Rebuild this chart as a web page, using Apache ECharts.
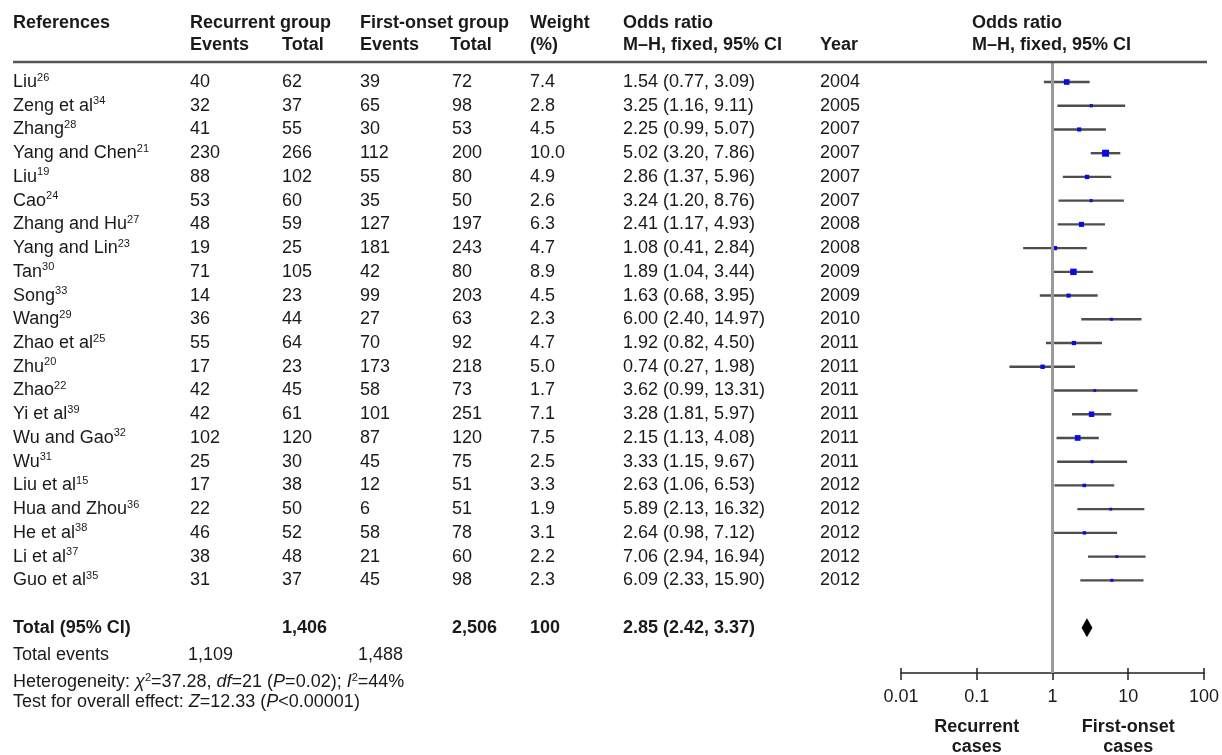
<!DOCTYPE html>
<html><head><meta charset="utf-8">
<script src="https://cdn.jsdelivr.net/npm/echarts@6/dist/echarts.min.js"></script>
<style>html,body{margin:0;padding:0;background:#fff}#c{width:1222px;height:755px}</style>
</head><body><div id="c"></div>
<script>
// ---------- data ----------
const studyNames = ['Liu','Zeng et al','Zhang','Yang and Chen','Liu','Cao','Zhang and Hu','Yang and Lin','Tan','Song','Wang','Zhao et al','Zhu','Zhao','Yi et al','Wu and Gao','Wu','Liu et al','Hua and Zhou','He et al','Li et al','Guo et al'];
const refNumbers = [26,34,28,21,19,24,27,23,30,33,29,25,20,22,39,32,31,15,36,38,37,35];
const recurrentEvents = [40,32,41,230,88,53,48,19,71,14,36,55,17,42,42,102,25,17,22,46,38,31];
const recurrentTotal = [62,37,55,266,102,60,59,25,105,23,44,64,23,45,61,120,30,38,50,52,48,37];
const firstEvents = [39,65,30,112,55,35,127,181,42,99,27,70,173,58,101,87,45,12,6,58,21,45];
const firstTotal = [72,98,53,200,80,50,197,243,80,203,63,92,218,73,251,120,75,51,51,78,60,98];
const weights = [7.4,2.8,4.5,10.0,4.9,2.6,6.3,4.7,8.9,4.5,2.3,4.7,5.0,1.7,7.1,7.5,2.5,3.3,1.9,3.1,2.2,2.3];
const oddsRatio = [1.54,3.25,2.25,5.02,2.86,3.24,2.41,1.08,1.89,1.63,6.00,1.92,0.74,3.62,3.28,2.15,3.33,2.63,5.89,2.64,7.06,6.09];
const ciLow = [0.77,1.16,0.99,3.20,1.37,1.20,1.17,0.41,1.04,0.68,2.40,0.82,0.27,0.99,1.81,1.13,1.15,1.06,2.13,0.98,2.94,2.33];
const ciHigh = [3.09,9.11,5.07,7.86,5.96,8.76,4.93,2.84,3.44,3.95,14.97,4.50,1.98,13.31,5.97,4.08,9.67,6.53,16.32,7.12,16.94,15.90];
const years = [2004,2005,2007,2007,2007,2007,2008,2008,2009,2009,2010,2011,2011,2011,2011,2011,2011,2012,2012,2012,2012,2012];
const totalRecurrent = '1,406';
const totalFirst = '2,506';
const totalWeight = '100';
const totalRecurrentEvents = '1,109';
const totalFirstEvents = '1,488';
const pooled = [2.85, 2.42, 3.37];
const tickValues = [0.01, 0.1, 1, 10, 100];
const tickLabels = ['0.01', '0.1', '1', '10', '100'];
const heterogeneityText = 'Heterogeneity: {i|χ}{s|2}=37.28, {i|df}=21 ({i|P}=0.02); {i|I}{s|2}=44%';
const overallText = 'Test for overall effect: {i|Z}=12.33 ({i|P}<0.00001)';

// ---------- chart ----------
const F = "'Liberation Sans', Arial, Helvetica, sans-serif";
const INK = '#1a1a1a';
const TOTAL_ROW = studyNames.length + 1;
const chart = echarts.init(document.getElementById('c'), null, {renderer: 'canvas'});

const studyData = studyNames.map((n, i) => [i, oddsRatio[i], ciLow[i], ciHigh[i], weights[i]]);

chart.setOption({
  animation: false,
  backgroundColor: '#fff',
  grid: {left: 901, right: 15, top: 62, bottom: 82, containLabel: false},
  xAxis: [{
    type: 'log', logBase: 10, min: 0.01, max: 100, interval: 1, position: 'bottom',
    axisLine: {show: true, onZero: false, lineStyle: {color: '#222', width: 1.5}},
    axisTick: {show: true, length: 7, lineStyle: {color: '#222', width: 1.5}},
    minorTick: {show: false}, splitLine: {show: false},
    axisLabel: {show: true, interval: 0, showMinLabel: true, showMaxLabel: true, margin: 15,
      fontSize: 18, fontFamily: F, color: INK,
      formatter: function (v) {
        let best = 0;
        tickValues.forEach((t, k) => { if (Math.abs(Math.log10(t) - Math.log10(v)) < Math.abs(Math.log10(tickValues[best]) - Math.log10(v))) best = k; });
        return tickLabels[best];
      }}
  }, {
    type: 'log', logBase: 10, min: 0.01, max: 100, interval: 1, position: 'bottom', gridIndex: 0,
    axisLine: {show: false, onZero: false},
    axisTick: {show: true, inside: true, length: 5, lineStyle: {color: '#222', width: 1.5}},
    axisLabel: {show: false}, splitLine: {show: false}
  }],
  yAxis: {type: 'value', inverse: true, min: -0.843, max: 24.905, show: false, splitLine: {show: false}},
  series: [{
    type: 'line', data: [], z: 1, silent: true,
    markLine: {silent: true, symbol: 'none', label: {show: false},
      lineStyle: {color: '#9a9a9a', width: 3, type: 'solid'}, data: [{xAxis: 1}]}
  }, {
    type: 'custom', z: 3, silent: true,
    encode: {x: [1, 2, 3], y: 0},
    data: studyData,
    renderItem: function (params, api) {
      const y = api.value(0);
      const pL = api.coord([api.value(2), y]);
      const pH = api.coord([api.value(3), y]);
      const pO = api.coord([api.value(1), y]);
      const s = 1.8 + 0.52 * api.value(4);
      return {type: 'group', children: [
        {type: 'line', shape: {x1: pL[0], y1: pL[1], x2: pH[0], y2: pH[1]}, style: {stroke: '#4d4d4d', lineWidth: 2.4}},
        {type: 'rect', shape: {x: pO[0] - s / 2, y: pO[1] - s / 2, width: s, height: s}, style: {fill: '#0a0ae6'}}
      ]};
    }
  }, {
    type: 'custom', z: 3, silent: true,
    encode: {x: [1, 2, 3], y: 0},
    data: [[TOTAL_ROW, pooled[0], pooled[1], pooled[2]]],
    renderItem: function (params, api) {
      const y = api.value(0);
      const pL = api.coord([api.value(2), y]);
      const pH = api.coord([api.value(3), y]);
      const pO = api.coord([api.value(1), y]);
      const h = 9.5;
      return {type: 'polygon', shape: {points: [[pL[0], pL[1]], [pO[0], pO[1] - h], [pH[0], pH[1]], [pO[0], pO[1] + h]]}, style: {fill: '#000'}};
    }
  }]
});

// ---------- table text ----------
const rich = {
  n: {fontSize: 18, fontFamily: F, lineHeight: 20, fill: INK},
  i: {fontSize: 18, fontFamily: F, fontStyle: 'italic', lineHeight: 20, fill: INK},
  s: {fontSize: 11, fontFamily: F, lineHeight: 15, verticalAlign: 'top', fill: INK}
};
function T(x, y, text, bold, align) {
  const a = align || 'left';
  return {type: 'text', x: x, y: y, silent: true, z: 10,
    style: {text: String(text), fill: INK, font: (bold ? 'bold ' : '') + '18px ' + F,
      align: a, verticalAlign: 'middle', textAlign: a, textVerticalAlign: 'middle', lineHeight: 20, rich: rich}};
}
const rowY = i => chart.convertToPixel({yAxisIndex: 0}, i);
const px = v => chart.convertToPixel({xAxisIndex: 0}, v);

const g = [];
// header
const H1 = 23, H2 = 45;
g.push(T(13, H1, 'References', true));
g.push(T(190, H1, 'Recurrent group', true)); g.push(T(190, H2, 'Events', true));
g.push(T(282, H2, 'Total', true));
g.push(T(360, H1, 'First-onset group', true)); g.push(T(360, H2, 'Events', true));
g.push(T(450, H2, 'Total', true));
g.push(T(530, H1, 'Weight', true)); g.push(T(530, H2, '(%)', true));
g.push(T(623, H1, 'Odds ratio', true)); g.push(T(623, H2, 'M–H, fixed, 95% CI', true));
g.push(T(820, H2, 'Year', true));
g.push(T(972, H1, 'Odds ratio', true)); g.push(T(972, H2, 'M–H, fixed, 95% CI', true));
g.push({type: 'line', silent: true, z: 5, shape: {x1: 13, y1: 62, x2: 1207, y2: 62}, style: {stroke: '#555', lineWidth: 2.5}});

studyNames.forEach((n, i) => {
  const y = rowY(i);
  g.push(T(13, y, n + '{s|' + refNumbers[i] + '}'));
  g.push(T(190, y, recurrentEvents[i]));
  g.push(T(282, y, recurrentTotal[i]));
  g.push(T(360, y, firstEvents[i]));
  g.push(T(452, y, firstTotal[i]));
  g.push(T(530, y, weights[i].toFixed(1)));
  g.push(T(623, y, oddsRatio[i].toFixed(2) + ' (' + ciLow[i].toFixed(2) + ', ' + ciHigh[i].toFixed(2) + ')'));
  g.push(T(820, y, years[i]));
});

const yt = rowY(TOTAL_ROW);
g.push(T(13, yt, 'Total (95% CI)', true));
g.push(T(282, yt, totalRecurrent, true));
g.push(T(452, yt, totalFirst, true));
g.push(T(530, yt, totalWeight, true));
g.push(T(623, yt, pooled[0].toFixed(2) + ' (' + pooled[1].toFixed(2) + ', ' + pooled[2].toFixed(2) + ')', true));

g.push(T(13, 655, 'Total events'));
g.push(T(188, 655, totalRecurrentEvents));
g.push(T(358, 655, totalFirstEvents));
g.push(T(13, 682, heterogeneityText));
g.push(T(13, 702, overallText));

g.push(T(px(0.1), 727, 'Recurrent', true, 'center'));
g.push(T(px(0.1), 747, 'cases', true, 'center'));
g.push(T(px(10), 727, 'First-onset', true, 'center'));
g.push(T(px(10), 747, 'cases', true, 'center'));

chart.setOption({graphic: {elements: g}});
</script>
</body></html>
